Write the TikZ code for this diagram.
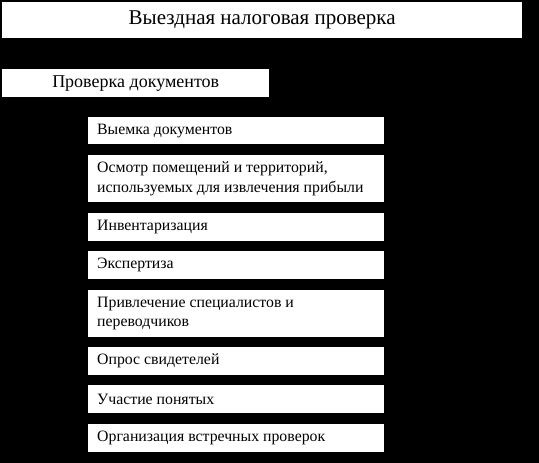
\documentclass[tikz,border=0pt]{standalone}
\usepackage{fontspec}
\setmainfont{Liberation Serif}
\usetikzlibrary{positioning}

\tikzset{
  box/.style={fill=white, anchor=north west, inner sep=0pt},
  itemtext/.style={anchor=west, align=left, inner sep=0pt, font=\fontsize{15.8}{19.5}\selectfont}
}

\begin{document}
\begin{tikzpicture}[x=1pt,y=-1pt]
		\fill[black] (0,0) rectangle (539,463);
		\useasboundingbox (0,0) rectangle (539,463);
		% top level
		\node[box, minimum width=520pt, minimum height=36pt, font=\fontsize{21}{24}\selectfont] (visit) at (2,2) {Выездная налоговая проверка};
		\node[box, minimum width=267pt, minimum height=28pt, font=\fontsize{18}{21}\selectfont] (docs) at (2,69) {Проверка документов};
		% actions
		\node[box, minimum width=296pt, minimum height=27pt] (seize) at (88,117) {};
		\node[itemtext] (seizet) at ([xshift=9pt]seize.west) {Выемка документов};
		\node[box, minimum width=296pt, minimum height=47pt] (inspect) at (88,155) {};
		\node[itemtext] (inspectt) at ([xshift=9pt]inspect.west) {Осмотр помещений и территорий,\\используемых для извлечения прибыли};
		\node[box, minimum width=296pt, minimum height=28pt] (invent) at (88,213) {};
		\node[itemtext] (inventt) at ([xshift=9pt]invent.west) {Инвентаризация};
		\node[box, minimum width=296pt, minimum height=28pt] (expert) at (88,251) {};
		\node[itemtext] (expertt) at ([xshift=9pt]expert.west) {Экспертиза};
		\node[box, minimum width=296pt, minimum height=47pt] (spec) at (88,290) {};
		\node[itemtext] (spect) at ([xshift=9pt]spec.west) {Привлечение специалистов и\\переводчиков};
		\node[box, minimum width=296pt, minimum height=28pt] (witness) at (88,347) {};
		\node[itemtext] (witnesst) at ([xshift=9pt]witness.west) {Опрос свидетелей};
		\node[box, minimum width=296pt, minimum height=28pt] (attest) at (88,385) {};
		\node[itemtext] (attestt) at ([xshift=9pt]attest.west) {Участие понятых};
		\node[box, minimum width=296pt, minimum height=28pt] (counter) at (88,424) {};
		\node[itemtext] (countert) at ([xshift=9pt]counter.west) {Организация встречных проверок};
		\end{tikzpicture}
\end{document}
